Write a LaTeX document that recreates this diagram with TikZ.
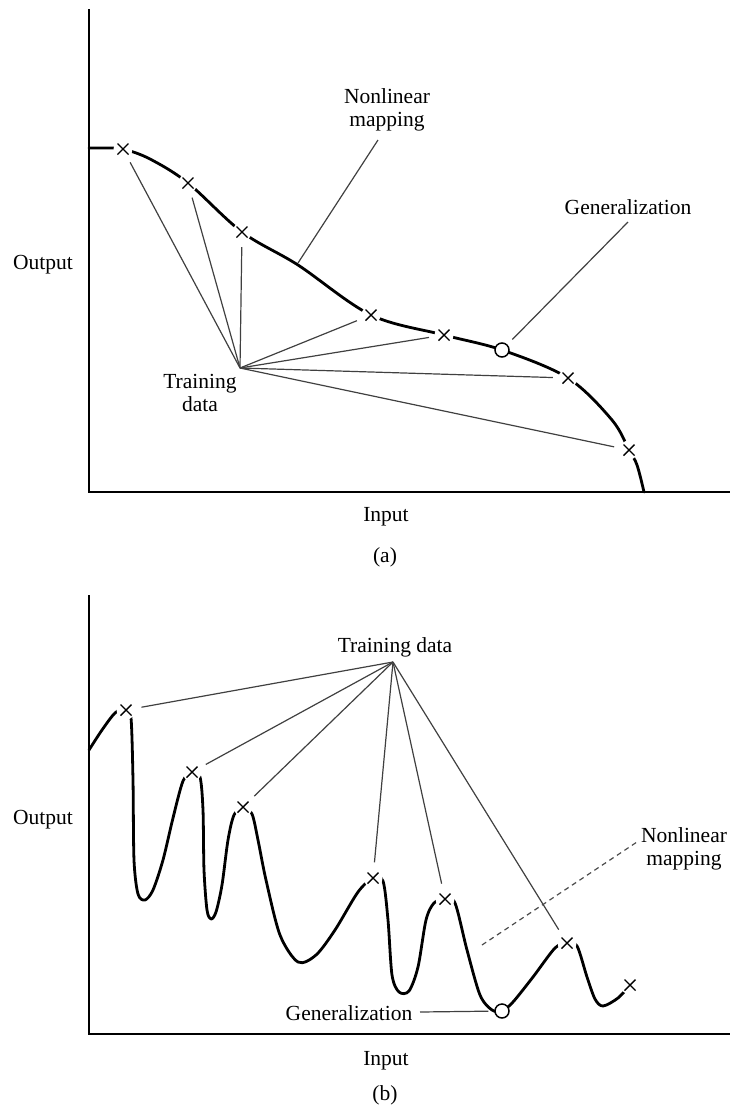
\documentclass[tikz,border=0pt]{standalone}
\usepackage{fontspec}
\setmainfont{Liberation Serif}
\begin{document}
\begin{tikzpicture}[x=1pt,y=-1pt,
  font=\fontsize{21.5}{23.5}\selectfont,
  axisline/.style={line width=2pt},
  mapcurve/.style={line width=2.8pt, line cap=round, line join=round},
  leader/.style={line width=1.2pt, draw=black!75},
  dashleader/.style={line width=1.2pt, draw=black!70, dash pattern=on 5pt off 4pt},
  xmark/.style={circle, fill=white, inner sep=0pt, minimum size=19pt,
    path picture={\draw[line width=1.4pt]
      (path picture bounding box.center) ++(-5.5,-5.5) -- ++(11,11)
      (path picture bounding box.center) ++(-5.5,5.5) -- ++(11,-11);}},
  omark/.style={circle, fill=white, draw, line width=1.5pt, inner sep=0pt, minimum size=14pt},
  lbl/.style={inner sep=0pt, align=center}]
\useasboundingbox (0,0) rectangle (730,1112);

% ---------------- panel (a): smooth mapping ----------------
\draw[axisline] (89,9) -- (89,492) -- (730,492);
\draw[mapcurve] plot[smooth, tension=0.55] coordinates {
  (89,148) (105,148) (123,149) (150,159) (188,183) (242,232) (298,265)
  (371,315) (444,335) (502,350) (568,378) (612,420) (629,450) (637,465) (644,492)};

\node[xmark] (a1) at (123,149) {};
\node[xmark] (a2) at (188,183) {};
\node[xmark] (a3) at (242,232) {};
\node[xmark] (a4) at (371,315) {};
\node[xmark] (a5) at (444,335) {};
\node[omark] (ga) at (502,350) {};
\node[xmark] (a6) at (568,378) {};
\node[xmark] (a7) at (629,450) {};

\coordinate (fanA) at (240,368);
\coordinate (nlAtip) at (298,263);
\coordinate (nlAend) at (378,140);
\coordinate (genAend) at (628,222);

\node[lbl] (trainA) at (200,393) {Training\\data};
\node[lbl] (nlA) at (387,110) {Nonlinear\\mapping};
\node[lbl] (genA) at (628,207) {Generalization};
\node[lbl] (outA) at (43,265) {Output};
\node[lbl] (inA) at (386,517) {Input};
\node[lbl] (capA) at (385,557) {(a)};

\foreach \m in {a1,a2,a3,a4,a5,a6,a7}
  \draw[leader, shorten >=5.5pt] (fanA) -- (\m);
\draw[leader] (nlAtip) -- (nlAend);
\draw[leader, shorten <=7pt] (ga) -- (genAend);

% ---------------- panel (b): overfitted mapping ----------------
\draw[axisline] (89,595) -- (89,1034) -- (730,1034);
\draw[mapcurve] plot[smooth, tension=0.5] coordinates {
  (89,750) (102,730) (115,713) (126,708)
  (131,718) (133,780) (134,860) (138,894) (145,900) (153,890) (163,860) (173,818) (183,781) (192,772)
  (200,777) (203,810) (204,870) (207,910) (211,919) (216,912) (222,885) (228,840) (234,815) (243,807)
  (252,814) (258,840) (266,880) (280,935) (298,962) (316,955) (335,930) (358,892) (373,878)
  (383,881) (388,920) (392,975) (399,992) (409,991) (418,967) (426,920) (434,903) (445,899)
  (455,903) (467,950) (480,995) (492,1010) (502,1011)
  (513,1002) (533,977) (555,948) (567,943)
  (577,946) (587,977) (595,999) (603,1006) (618,998) (630,985)};

\node[xmark] (b1) at (126,710) {};
\node[xmark] (b2) at (192,772) {};
\node[xmark] (b3) at (243,807) {};
\node[xmark] (b4) at (373,878) {};
\node[xmark] (b5) at (445,899) {};
\node[omark] (gb) at (502,1011) {};
\node[xmark] (b6) at (567,943) {};
\node[xmark] (b7) at (630,985) {};

\coordinate (fanB) at (393,662);
\coordinate (genBend) at (420,1012);
\coordinate (nlBtip) at (482,945);
\coordinate (nlBend) at (637,842);

\node[lbl] (trainB) at (395,647) {Training data};
\node[lbl] (nlB) at (684,849) {Nonlinear\\mapping};
\node[lbl] (genB) at (349,1013) {Generalization};
\node[lbl] (outB) at (43,820) {Output};
\node[lbl] (inB) at (386,1061) {Input};
\node[lbl] (capB) at (385,1095) {(b)};

\foreach \m in {b1,b2,b3,b4,b5,b6}
  \draw[leader, shorten >=6pt] (fanB) -- (\m);
\draw[leader, shorten >=6pt] (genBend) -- (gb);
\draw[dashleader] (nlBtip) -- (nlBend);
\end{tikzpicture}
\end{document}
